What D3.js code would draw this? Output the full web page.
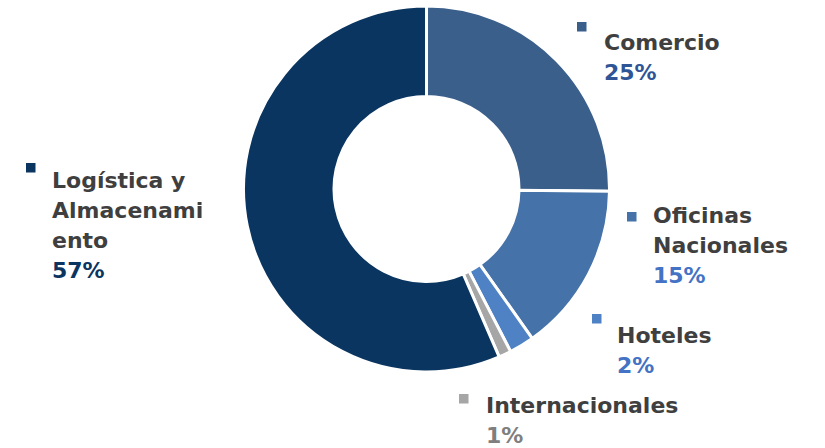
<!DOCTYPE html>
<html>
<head>
<meta charset="utf-8">
<script src="https://cdn.jsdelivr.net/npm/d3@7"></script>
<style>
  body { margin: 0; background: #fff; }
  text { font-family: "DejaVu Sans", sans-serif; font-weight: bold; }
</style>
</head>
<body>
<div class="render"></div>
<script>
'use strict';

// data, clockwise from 12 o'clock (labels are rounded)
var sectors = ['Comercio', 'Oficinas Nacionales', 'Hoteles', 'Internacionales', 'Logística y Almacenamiento'];
var shares = [25.2, 15, 2.2, 1.1, 56.5];
var labelLines = [['Comercio'], ['Oficinas', 'Nacionales'], ['Hoteles'], ['Internacionales'], ['Logística y', 'Almacenami', 'ento']];
var pctLabels = ['25%', '15%', '2%', '1%', '57%'];

var fills = ['#3a5f8b', '#4572a8', '#4f82c4', '#a6a6a6', '#0a3560'];
var pctColors = ['#2f5597', '#4472c4', '#4472c4', '#7f7f7f', '#0a3560'];

// legend placement: marker box and first baseline of text
var legendPos = [
   { mx: 577, my: 22, tx: 604, ty: 50 },
   { mx: 627, my: 212, tx: 653, ty: 223 },
   { mx: 592, my: 314, tx: 617, ty: 343 },
   { mx: 459, my: 394, tx: 486, ty: 413 },
   { mx: 26, my: 163, tx: 52, ty: 188 }
];

function draw() {
   var w = 825, h = 448;
   var cx = 426.5, cy = 189;
   var outerR = 183, innerR = 92.5;
   var lineH = 30;

   var svg = d3.select('.render').append('svg').attr('width', w).attr('height', h);

   var pie = d3.pie().sort(null).value(function (d) { return d; });
   var arc = d3.arc().innerRadius(innerR).outerRadius(outerR);

   svg.append('g').attr('transform', 'translate(' + cx + ',' + cy + ')')
      .selectAll('path').data(pie(shares)).enter().append('path')
      .attr('d', arc)
      .attr('fill', function (d, i) { return fills[i]; })
      .attr('stroke', '#fff').attr('stroke-width', 3).attr('stroke-linejoin', 'miter');

   var leg = svg.selectAll('g.legend').data(sectors).enter().append('g').attr('class', 'legend');

   leg.append('rect')
      .attr('x', function (d, i) { return legendPos[i].mx; })
      .attr('y', function (d, i) { return legendPos[i].my; })
      .attr('width', 9.5).attr('height', 9.5)
      .attr('fill', function (d, i) { return fills[i]; });

   leg.each(function (d, i) {
      var g = d3.select(this);
      var p = legendPos[i];
      labelLines[i].forEach(function (line, j) {
         g.append('text').text(line)
            .attr('x', p.tx).attr('y', p.ty + j * lineH)
            .attr('fill', '#3f3f3f').style('font-size', '22px');
      });
      g.append('text').text(pctLabels[i])
         .attr('x', p.tx).attr('y', p.ty + labelLines[i].length * lineH)
         .attr('fill', pctColors[i]).style('font-size', '22px');
   });
}

draw();
</script>
</body>
</html>
